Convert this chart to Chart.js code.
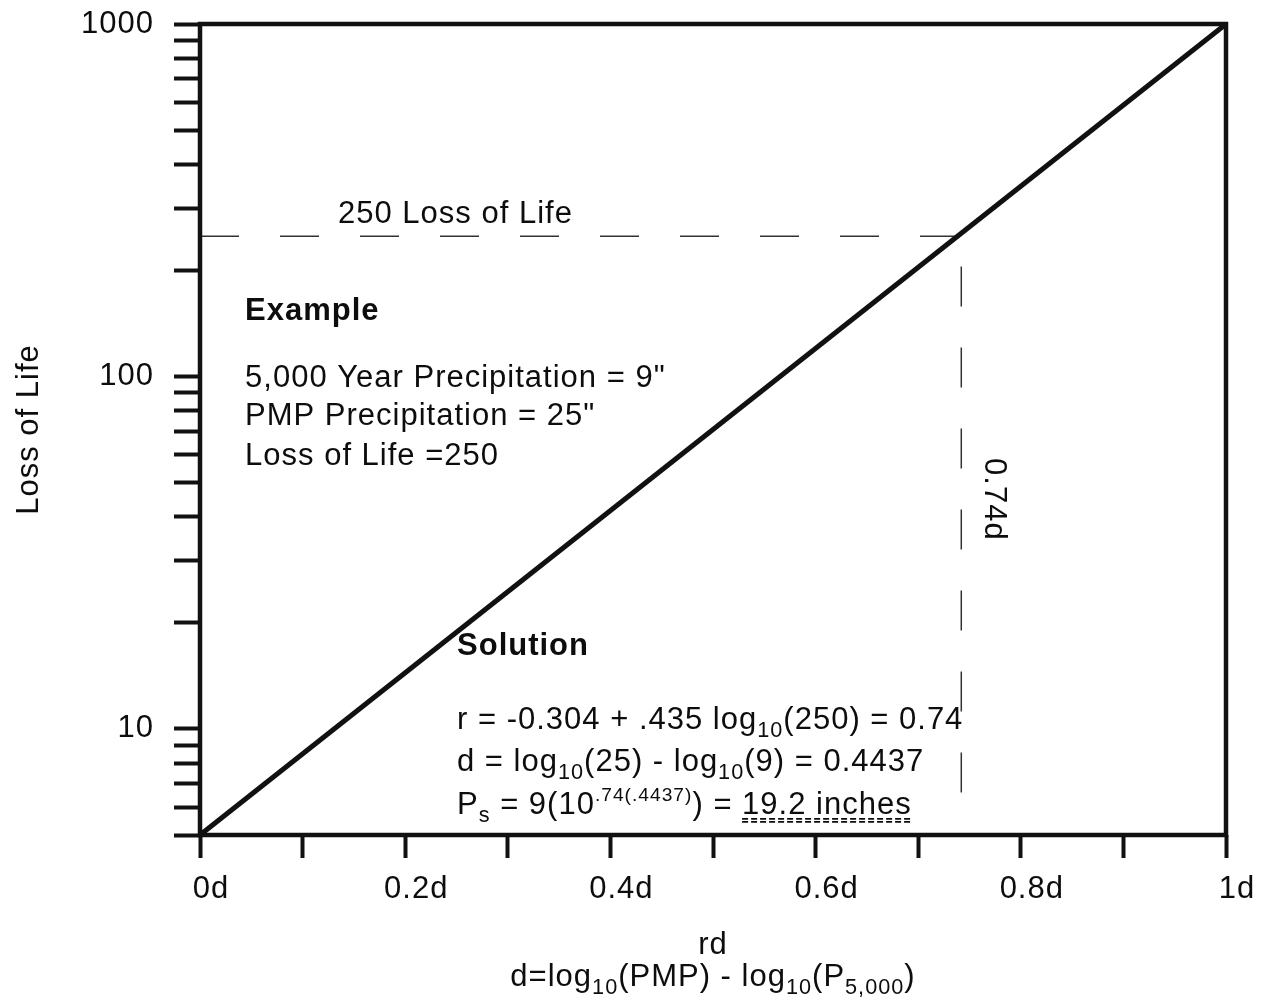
<!DOCTYPE html>
<html>
<head>
<meta charset="utf-8">
<script src="https://cdn.jsdelivr.net/npm/chart.js@4/dist/chart.umd.min.js"></script>
<style>
html,body{margin:0;padding:0;background:#ffffff;}
#wrap{width:1274px;height:1005px;position:relative;}
</style>
</head>
<body>
<div id="wrap"><canvas id="c" width="1274" height="1005"></canvas></div>
<script>
// ---------- data ----------
const relX = [0, 1];                 // rd fraction of d
const relLoss = [5, 1000];           // loss of life along the relation
const lossGuideX = [0, 0.74];        // horizontal dashed guide at 250 loss of life
const lossGuideY = [250, 250];
const rdGuideX = [0.742, 0.742];     // vertical dashed guide at 0.74d
const rdGuideY = [205, 6.5];
const xTickValues = [0, 0.1, 0.2, 0.3, 0.4, 0.5, 0.6, 0.7, 0.8, 0.9, 1];
const xTickLabels = ['0d', '', '0.2d', '', '0.4d', '', '0.6d', '', '0.8d', '', '1d'];
const yTickValues = [5, 6, 7, 8, 9, 10, 20, 30, 40, 50, 60, 70, 80, 90, 100, 200, 300, 400, 500, 600, 700, 800, 900, 1000];
const yTickLabels = ['', '', '', '', '', '10', '', '', '', '', '', '', '', '', '100', '', '', '', '', '', '', '', '', '1000'];

const FONT = "'Liberation Sans', Arial, Helvetica, sans-serif";
const INK = '#0d0d0d';

// annotation texts (anchors in data coordinates: x = fraction of d, y = loss of life)
const notes = [
  {x: 0.1345, y: 273, size: 31, weight: 'normal', segs: [['250 Loss of Life']]},
  {x: 0.0439, y: 145, size: 31, weight: 'bold', segs: [['Example']]},
  {x: 0.0439, y: 93.1, size: 31, weight: 'normal', segs: [['5,000 Year Precipitation = 9"']]},
  {x: 0.0439, y: 72.6, size: 31, weight: 'normal', segs: [['PMP Precipitation = 25"']]},
  {x: 0.0439, y: 56.0, size: 31, weight: 'normal', segs: [['Loss of Life =250']]},
  {x: 0.2505, y: 16.2, size: 31, weight: 'bold', segs: [['Solution']]},
  {x: 0.2505, y: 10.0, size: 31, weight: 'normal', segs: [['r = -0.304 + .435 log'], ['10', 'sub'], ['(250) = 0.74']]},
  {x: 0.2505, y: 7.6, size: 31, weight: 'normal', segs: [['d = log'], ['10', 'sub'], ['(25) - log'], ['10', 'sub'], ['(9) = 0.4437']]},
  {x: 0.2505, y: 5.74, size: 31, weight: 'normal', segs: [['P'], ['s', 'sub'], [' = 9(10'], ['.74(.4437)', 'sup'], [') = '], ['19.2 inches', 'u']]}
];
const rotatedNote = {x: 0.773, y: 44.8, size: 31, text: '0.74d'};
const xTitleLine1 = [['rd']];
const xTitleLine2 = [['d=log'], ['10', 'sub'], ['(PMP) - log'], ['10', 'sub'], ['(P'], ['5,000', 'sub'], [')']];

function segFont(size, weight, kind) {
  let fs = size;
  if (kind === 'sub') fs = size * 0.7;
  if (kind === 'sup') fs = size * 0.62;
  return weight + ' ' + fs + 'px ' + FONT;
}
function richWidth(ctx, segs, size, weight) {
  let w = 0;
  for (const s of segs) { ctx.font = segFont(size, weight, s[1]); w += ctx.measureText(s[0]).width; }
  return w;
}
function drawRich(ctx, x, y, segs, size, weight, align) {
  let cx = x;
  if (align === 'center') cx = x - richWidth(ctx, segs, size, weight) / 2;
  ctx.textAlign = 'left';
  ctx.textBaseline = 'alphabetic';
  for (const s of segs) {
    const kind = s[1] || 'n';
    let dy = 0;
    if (kind === 'sub') dy = size * 0.26;
    if (kind === 'sup') dy = -size * 0.40;
    ctx.font = segFont(size, weight, kind);
    ctx.fillText(s[0], cx, y + dy);
    const w = ctx.measureText(s[0]).width;
    if (kind === 'u') {
      ctx.save();
      ctx.strokeStyle = INK;
      ctx.lineWidth = 1.6;
      ctx.setLineDash([6, 3]);
      ctx.beginPath(); ctx.moveTo(cx, y + 5); ctx.lineTo(cx + w, y + 5); ctx.stroke();
      ctx.beginPath(); ctx.moveTo(cx, y + 8); ctx.lineTo(cx + w, y + 8); ctx.stroke();
      ctx.restore();
    }
    cx += w;
  }
}

const spacingPlugin = {
  id: 'spacing',
  beforeUpdate(chart) { chart.ctx.letterSpacing = '1px'; },
  beforeDraw(chart) {
    const ctx = chart.ctx;
    ctx.letterSpacing = '1px';
    ctx.save();
    ctx.fillStyle = '#ffffff';
    ctx.fillRect(0, 0, chart.width, chart.height);
    ctx.restore();
  }
};

const framePlugin = {
  id: 'frameAndNotes',
  afterDatasetsDraw(chart) {
    const ctx = chart.ctx;
    const a = chart.chartArea;
    const xs = chart.scales.x, ys = chart.scales.y;
    ctx.save();
    ctx.strokeStyle = '#111';
    ctx.lineWidth = 4.5;
    ctx.strokeRect(a.left, a.top, a.right - a.left, a.bottom - a.top);
    ctx.fillStyle = INK;
    for (const n of notes) {
      drawRich(ctx, xs.getPixelForValue(n.x), ys.getPixelForValue(n.y), n.segs, n.size, n.weight, 'left');
    }
    // rotated label
    ctx.save();
    ctx.translate(xs.getPixelForValue(rotatedNote.x), ys.getPixelForValue(rotatedNote.y));
    ctx.rotate(Math.PI / 2);
    ctx.font = 'normal ' + rotatedNote.size + 'px ' + FONT;
    ctx.textAlign = 'center';
    ctx.textBaseline = 'middle';
    ctx.fillText(rotatedNote.text, 0, 0);
    ctx.restore();
    // x axis title (two lines, with subscripts)
    const cx = (a.left + a.right) / 2;
    drawRich(ctx, cx, a.bottom + 119, xTitleLine1, 31, 'normal', 'center');
    drawRich(ctx, cx, a.bottom + 151, xTitleLine2, 31, 'normal', 'center');
    ctx.restore();
  }
};

const ctx = document.getElementById('c').getContext('2d');
new Chart(ctx, {
  type: 'line',
  data: {
    datasets: [
      {
        data: relX.map((v, i) => ({x: v, y: relLoss[i]})),
        borderColor: '#111', borderWidth: 5, pointRadius: 0, fill: false, tension: 0
      },
      {
        data: lossGuideX.map((v, i) => ({x: v, y: lossGuideY[i]})),
        borderColor: '#333', borderWidth: 1.5, borderDash: [39, 41], pointRadius: 0, fill: false
      },
      {
        data: rdGuideX.map((v, i) => ({x: v, y: rdGuideY[i]})),
        borderColor: '#333', borderWidth: 1.5, borderDash: [40, 41], pointRadius: 0, fill: false
      }
    ]
  },
  options: {
    responsive: false,
    animation: false,
    devicePixelRatio: 1,
    layout: {padding: {top: 24, right: 48, left: 0, bottom: 0}},
    plugins: {legend: {display: false}, tooltip: {enabled: false}, title: {display: false}},
    scales: {
      x: {
        type: 'linear', min: 0, max: 1,
        afterFit(s) { s.height = 170; s.paddingLeft = 0; s.paddingRight = 0; },
        afterBuildTicks(s) { s.ticks = xTickValues.map(v => ({value: v})); },
        border: {display: false},
        grid: {drawOnChartArea: false, drawTicks: true, tickLength: 23, tickWidth: 4, tickColor: '#111', color: '#111'},
        ticks: {
          autoSkip: false, maxRotation: 0, padding: 13, labelOffset: 11,
          color: INK, font: {family: FONT, size: 31},
          callback: (v, i) => xTickLabels[i]
        }
      },
      y: {
        type: 'logarithmic', min: 5, max: 1000,
        afterFit(s) { s.width = 200; s.paddingTop = 0; s.paddingBottom = 0; },
        afterBuildTicks(s) { s.ticks = yTickValues.map(v => ({value: v})); },
        border: {display: false},
        grid: {drawOnChartArea: false, drawTicks: true, tickLength: 26, tickWidth: 4, tickColor: '#111', color: '#111'},
        ticks: {
          autoSkip: false, padding: 20,
          color: INK, font: {family: FONT, size: 31},
          callback: (v, i) => yTickLabels[i]
        },
        title: {
          display: true, text: 'Loss of Life', color: INK,
          font: {family: FONT, size: 31}, padding: {top: 11, bottom: 0}
        }
      }
    }
  },
  plugins: [spacingPlugin, framePlugin]
});
</script>
</body>
</html>
